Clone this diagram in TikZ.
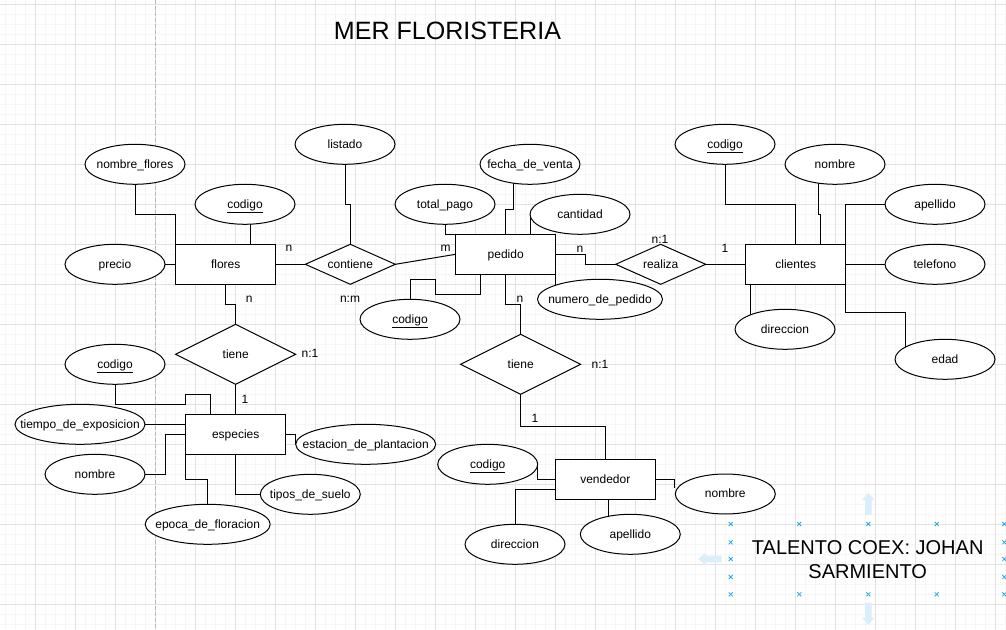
\documentclass[tikz,border=0pt]{standalone}
\usepackage{fontspec}
\setmainfont{Liberation Sans}
\usetikzlibrary{shapes.geometric}
\pgfdeclarelayer{grid}
\pgfdeclarelayer{edges}
\pgfsetlayers{grid,edges,main}
\definecolor{gridmajor}{RGB}{226,226,226}
\definecolor{gridminor}{RGB}{246,246,246}
\definecolor{pagebreak}{RGB}{185,185,185}
\definecolor{handleblue}{RGB}{41,170,240}
\definecolor{hintblue}{RGB}{218,238,251}
\newcommand{\mklbl}[1]{\makebox[0pt][c]{#1}}
\tikzset{
  basetxt/.style={inner sep=0pt, outer sep=0pt, line width=0.75pt,
    font=\fontsize{9pt}{10.8pt}\selectfont, text height=7.5pt, text depth=1.5pt},
  attr/.style={basetxt, ellipse, draw, fill=white, minimum width=75pt, minimum height=30pt},
  entity/.style={basetxt, rectangle, draw, fill=white, minimum width=75pt, minimum height=30pt},
  relsmall/.style={basetxt, diamond, draw, fill=white, aspect=2.25, minimum width=67.5pt, minimum height=30pt},
  relbig/.style={basetxt, diamond, draw, fill=white, aspect=2, minimum width=90pt, minimum height=45pt},
  elabel/.style={basetxt},
  conn/.style={line width=0.75pt, black},
  handle/.style={handleblue, line width=0.6pt}
}
\begin{document}
\begin{tikzpicture}[x=0.75pt,y=-0.75pt]
\useasboundingbox (0,0) rectangle (1006,630);
\begin{pgfonlayer}{grid}
\fill[white] (0,0) rectangle (1006,630);
\foreach \x in {5,15,...,1005} \draw[gridminor, line width=0.75pt] (\x,0) -- (\x,630);
\foreach \y in {0,10,...,620} \draw[gridminor, line width=0.75pt] (0,\y+4.3) -- (1006,\y+4.3);
\foreach \x in {35,75,...,995} \draw[gridmajor, line width=0.75pt] (\x,0) -- (\x,630);
\foreach \y in {0,40,...,600} \draw[gridmajor, line width=0.75pt] (0,\y+4.3) -- (1006,\y+4.3);
\draw[pagebreak, line width=0.75pt, dash pattern=on 3pt off 1.5pt] (155,0) -- (155,630);
\end{pgfonlayer}

% title and author
\node[inner sep=0pt, anchor=base, font=\fontsize{18.8pt}{22.5pt}\selectfont] (title) at (447.5,39.3) {MER FLORISTERIA};
\node[inner sep=0pt, align=center, font=\fontsize{15pt}{18pt}\selectfont] (autor) at (867.7,560) {TALENTO COEX: JOHAN\\SARMIENTO};

% entities
\node[entity] (flores) at (225.7,264.3) {\mklbl{flores}};
\node[entity] (pedido) at (505.7,254.3) {\mklbl{pedido}};
\node[entity] (clientes) at (795.7,264.3) {\mklbl{clientes}};
\node[entity] (especies) at (235.7,434.3) {\mklbl{especies}};
\node[entity] (vendedor) at (605.3,479.7) {\mklbl{vendedor}};

% relations
\node[relsmall] (contiene) at (350.3,264.3) {\mklbl{contiene}};
\node[relsmall] (realiza) at (660.7,264.3) {\mklbl{realiza}};
\node[relbig] (tiene1) at (235.7,354.3) {\mklbl{tiene}};
\node[relbig] (tiene2) at (520.7,364.3) {\mklbl{tiene}};

% attributes
\node[attr] (fl_nombre) at (135,164.3) {\mklbl{nombre\_flores}};
\node[attr] (fl_codigo) at (245,204.3) {\mklbl{\underline{codigo}}};
\node[attr] (fl_precio) at (115,264.3) {\mklbl{precio}};
\node[attr] (listado) at (345,144.3) {\mklbl{listado}};
\node[attr] (pe_total) at (445,204.3) {\mklbl{total\_pago}};
\node[attr] (pe_fecha) at (530,164.3) {\mklbl{fecha\_de\_venta}};
\node[attr] (pe_cantidad) at (580,214.3) {\mklbl{cantidad}};
\node[attr] (pe_codigo) at (410,319.3) {\mklbl{\underline{codigo}}};
\node[attr, minimum width=93.75pt] (pe_numero) at (600,299.3) {\mklbl{numero\_de\_pedido}};
\node[attr] (cl_codigo) at (725,144.3) {\mklbl{\underline{codigo}}};
\node[attr] (cl_nombre) at (835,164.3) {\mklbl{nombre}};
\node[attr] (cl_apellido) at (935,204.3) {\mklbl{apellido}};
\node[attr] (cl_telefono) at (935,264.3) {\mklbl{telefono}};
\node[attr] (cl_direccion) at (785,329.3) {\mklbl{direccion}};
\node[attr] (cl_edad) at (945,359.3) {\mklbl{edad}};
\node[attr] (es_codigo) at (115,364.3) {\mklbl{\underline{codigo}}};
\node[attr, minimum width=97.5pt] (es_tiempo) at (80,424.3) {\mklbl{tiempo\_de\_exposicion}};
\node[attr] (es_nombre) at (95,474.3) {\mklbl{nombre}};
\node[attr, minimum width=93.75pt] (es_epoca) at (207.7,524.3) {\mklbl{epoca\_de\_floracion}};
\node[attr] (es_tipos) at (310.3,494.3) {\mklbl{tipos\_de\_suelo}};
\node[attr, minimum width=105pt] (es_estacion) at (365.7,444.3) {\mklbl{estacion\_de\_plantacion}};
\node[attr] (ve_codigo) at (487.7,464.3) {\mklbl{\underline{codigo}}};
\node[attr] (ve_direccion) at (515,544.3) {\mklbl{direccion}};
\node[attr] (ve_apellido) at (630.3,534.3) {\mklbl{apellido}};
\node[attr] (ve_nombre) at (725.3,494) {\mklbl{nombre}};

% cardinality labels
\node[elabel] (c1) at (289,247.3) {n};
\node[elabel] (c2) at (249.3,298.3) {n};
\node[elabel] (c3) at (445.7,247.3) {m};
\node[elabel] (c4) at (350,299) {n:m};
\node[elabel] (c5) at (580,248.3) {n};
\node[elabel] (c6) at (660,239.3) {n:1};
\node[elabel] (c7) at (725,248.7) {1};
\node[elabel] (c8) at (520,299) {n};
\node[elabel] (c9) at (310,354) {n:1};
\node[elabel] (c10) at (245,399.3) {1};
\node[elabel] (c11) at (600,364.3) {n:1};
\node[elabel] (c12) at (535,419) {1};

\begin{pgfonlayer}{edges}
\draw[conn] (fl_nombre.center) -- ++(0,50) -| (flores.north west);
\draw[conn] ([xshift=3.75pt]fl_codigo.center) -- ++(0,40);
\draw[conn] (fl_precio.center) -- (flores.center);
\draw[conn] (flores.center) -- (contiene.center);
\draw[conn] (listado.center) -- ++(0,60) -| (contiene.center);
\draw[conn] (contiene.east) -- (pedido.west);
\draw[conn] (pe_total.center) |- (pedido.north west);
\draw[conn] ([xshift=-12.5pt]pe_fecha.center) -- ++(0,45) -| (pedido.center);
\draw[conn] (pe_cantidad.west) -- (pe_cantidad.west |- pedido.north);
\draw[conn] (pedido.east) -- ++(30,0) |- (realiza.center);
\draw[conn] (pe_codigo.center) -- ++(0,-40) -- ++(25,0) -- ++(0,15) -| ([xshift=-18.75pt]pedido.south);
\draw[conn] (pedido.south east) -- ++(0,20);
\draw[conn] (pedido.south) -- ++(0,30) -| (tiene2.center);
\draw[conn] (realiza.center) -- (clientes.center);
\draw[conn] (cl_codigo.center) -- ++(0,60) -| (clientes.center);
\draw[conn] ([xshift=-12.5pt]cl_nombre.center) -- ++(0,50) -| ([xshift=18.75pt]clientes.center);
\draw[conn] (cl_apellido.center) -| (clientes.north east);
\draw[conn] (clientes.center) -- (cl_telefono.center);
\draw[conn] (clientes.south east) -- ++(0,28) -| ([xshift=-29.5pt]cl_edad.center);
\draw[conn] ([xshift=3.25pt]clientes.south west) -- ++(0,35);
\draw[conn] (flores.south) -- ++(0,20) -| (tiene1.center);
\draw[conn] (tiene1.center) -- (especies.center);
\draw[conn] (es_codigo.center) -- ++(0,40) -| ++(70.7,-10) -| ([xshift=-18.75pt]especies.center);
\draw[conn] (es_tiempo.center) -- ([yshift=7.5pt]especies.center);
\draw[conn] (es_nombre.center) -- ++(70.7,0) |- (especies.center);
\draw[conn] (especies.south west) -- ++(0,25) -| (es_epoca.center);
\draw[conn] (especies.center) |- (es_tipos.center);
\draw[conn] (especies.center) -| (es_estacion.west);
\draw[conn] (tiene2.center) -- ++(0,62.7) -| (vendedor.center);
\draw[conn] (ve_codigo.center) -- ++(50,0) |- (vendedor.center);
\draw[conn] (ve_direccion.center) |- ([yshift=-7.5pt]vendedor.center);
\draw[conn] ([xshift=2.75pt]vendedor.center) -- ++(0,40);
\draw[conn] (vendedor.center) -- ++(68.7,0) -- ++(0,8);
\end{pgfonlayer}

% selection handles around the author text
\foreach \x in {730.7,799.3,868.3,936.7,1004.3} {
  \draw[handle] (\x,524) +(-2,-2) -- +(2,2) +(-2,2) -- +(2,-2);
  \draw[handle] (\x,594.3) +(-2,-2) -- +(2,2) +(-2,2) -- +(2,-2);
}
\foreach \y in {542.3,559,577} {
  \draw[handle] (730.7,\y) +(-2,-2) -- +(2,2) +(-2,2) -- +(2,-2);
  \draw[handle] (1004.3,\y) +(-2,-2) -- +(2,2) +(-2,2) -- +(2,-2);
}
\fill[hintblue] (868.3,492.7) -- (874.5,500) -- (871.6,500) -- (871.6,515) -- (865,515) -- (865,500) -- (862.1,500) -- cycle;
\fill[hintblue] (868.3,625) -- (874.5,617.7) -- (871.6,617.7) -- (871.6,602.7) -- (865,602.7) -- (865,617.7) -- (862.1,617.7) -- cycle;
\fill[hintblue] (698.3,559) -- (705.6,552.8) -- (705.6,555.7) -- (721.7,555.7) -- (721.7,562.3) -- (705.6,562.3) -- (705.6,565.2) -- cycle;
\end{tikzpicture}
\end{document}
